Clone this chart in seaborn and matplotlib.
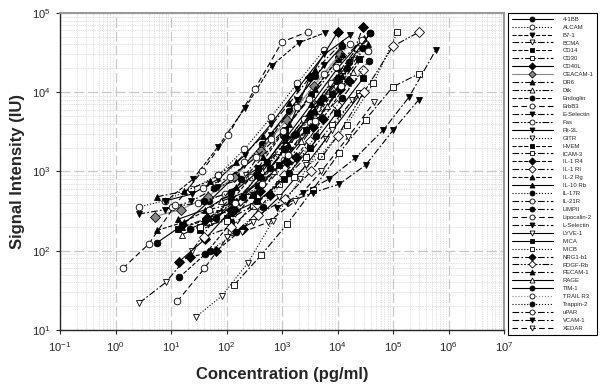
import matplotlib
matplotlib.use("Agg")
import matplotlib.pyplot as plt
import seaborn as sns
from matplotlib.ticker import LogLocator, NullFormatter

# series names (legend order)
names = ["4-1BB", "ALCAM", "B7-1", "BCMA", "CD14", "CD30", "CD40L", "CEACAM-1",
         "DR6", "Dtk", "Endoglin", "ErbB3", "E-Selectin", "Fas", "Flt-3L", "GITR",
         "HVEM", "ICAM-3", "IL-1 R4", "IL-1 RI", "IL-2 Rg", "IL-10 Rb", "IL-17R",
         "IL-21R", "LIMPII", "Lipocalin-2", "L-Selectin", "LYVE-1", "MICA", "MICB",
         "NRG1-b1", "PDGF-Rb", "PECAM-1", "RAGE", "TIM-1", "TRAIL R3", "Trappin-2",
         "uPAR", "VCAM-1", "XEDAR"]

# axis decades
x_ticks = [1e-1, 1e0, 1e1, 1e2, 1e3, 1e4, 1e5, 1e6, 1e7]
y_ticks = [1e1, 1e2, 1e3, 1e4, 1e5]

# concentration (pg/ml) and signal (IU)
conc = {
    "4-1BB": [5.5, 16, 49, 148, 444, 1333, 4000, 12000],
    "ALCAM": [2.6, 7.8, 23, 70, 210, 630, 1900, 5700],
    "B7-1": [8, 25, 70, 215, 650, 2000, 5900],
    "BCMA": [2.7, 8.1, 24, 73, 220, 660, 2000],
    "CD14": [13.5, 41, 123, 370, 1111, 3333, 10000],
    "CD30": [137, 420, 1230, 3600, 10700, 32000, 100000, 290000],
    "CD40L": [14, 41, 123, 370, 1111, 3200, 10000],
    "CEACAM-1": [5.1, 15, 46, 137, 411, 1233, 3700, 11000],
    "DR6": [5.6, 17, 50, 150, 450, 1350, 4000, 12000],
    "Dtk": [16, 49, 148, 444, 1333, 4000, 12000],
    "Endoglin": [14, 41, 123, 370, 1111, 3333, 10000],
    "ErbB3": [13, 40, 120, 360, 1080, 3240, 9720],
    "E-Selectin": [2.6, 7.8, 23, 70, 210, 630, 1900, 5700],
    "Fas": [10.4, 31, 94, 280, 840, 2500, 7500, 22500],
    "Flt-3L": [7.9, 24, 71, 213, 640, 1900, 5800, 17000],
    "GITR": [28, 83, 245, 690, 2100, 6200, 18500],
    "HVEM": [33, 100, 300, 900, 2700, 8100, 24300],
    "ICAM-3": [33, 100, 300, 900, 2700, 8100, 24300],
    "IL-1 R4": [22, 66, 200, 600, 1800, 5400, 16000],
    "IL-1 RI": [40, 120, 360, 1080, 3240, 9720, 29000],
    "IL-2 Rg": [5.6, 17, 50, 150, 450, 1350, 4000, 12000],
    "IL-10 Rb": [13.5, 41, 123, 370, 1111, 3333, 10000, 30000],
    "IL-17R": [40, 120, 360, 1080, 3240, 9720, 29000],
    "IL-21R": [38, 114, 342, 1030, 3090, 9270, 27800],
    "LIMPII": [60, 180, 540, 1620, 4860, 14600, 39000],
    "Lipocalin-2": [1.36, 4, 12, 36, 108, 324, 1000, 2950],
    "L-Selectin": [1230, 3600, 10700, 32000, 100000, 290000],
    "LYVE-1": [100, 300, 900, 2700, 8100, 24300],
    "MICA": [120, 360, 1080, 3240, 9720, 29000],
    "MICB": [1650, 4950, 14800, 44500, 120000],
    "NRG1-b1": [45, 135, 405, 1215, 3645, 10900, 29000],
    "PDGF-Rb": [370, 1111, 3333, 10000, 30000, 100000, 290000],
    "PECAM-1": [16, 49, 148, 444, 1333, 4000, 12000, 36000],
    "RAGE": [80, 240, 720, 2160, 6480, 19400],
    "TIM-1": [22, 66, 200, 600, 1800, 5400, 16200, 39000],
    "TRAIL R3": [70, 210, 630, 1900, 5700, 17000],
    "Trappin-2": [50, 150, 450, 1350, 4050, 12150, 36500],
    "uPAR": [48, 145, 435, 1300, 3900, 11700, 35000],
    "VCAM-1": [810, 2400, 7000, 21000, 66000, 195000, 590000],
    "XEDAR": [190, 570, 1700, 5100, 15400, 46000],
}
signal = {
    "4-1BB": [125, 210, 420, 900, 2200, 5800, 16000, 38000],
    "ALCAM": [355, 430, 600, 890, 1900, 4800, 13000, 34000],
    "B7-1": [420, 800, 2040, 6300, 21500, 42000, 56000],
    "BCMA": [22, 40, 100, 300, 900, 2800, 8000],
    "CD14": [190, 240, 420, 1100, 3300, 9500, 26000],
    "CD30": [37, 88, 215, 590, 1700, 4500, 11700, 17000],
    "CD40L": [73, 140, 330, 900, 2700, 15500, 57000],
    "CEACAM-1": [270, 330, 480, 850, 1800, 4500, 12000, 30000],
    "DR6": [480, 560, 760, 1300, 2800, 7200, 19000, 42000],
    "Dtk": [160, 230, 430, 1000, 2600, 7200, 19000],
    "Endoglin": [46, 90, 230, 650, 1900, 5500, 15000],
    "ErbB3": [23, 60, 170, 480, 1400, 4200, 12000],
    "E-Selectin": [290, 330, 420, 640, 1200, 2900, 8000, 22000],
    "Fas": [355, 400, 520, 850, 1800, 4600, 13000, 36000],
    "Flt-3L": [425, 520, 800, 1600, 4000, 11000, 30000, 52000],
    "GITR": [14.6, 27, 71, 240, 800, 2600, 8000],
    "HVEM": [180, 260, 500, 1200, 3300, 9500, 26000],
    "ICAM-3": [200, 240, 370, 700, 1500, 3900, 9800],
    "IL-1 R4": [83, 100, 190, 500, 1500, 4600, 14000],
    "IL-1 RI": [150, 200, 390, 900, 2400, 6800, 19000],
    "IL-2 Rg": [180, 230, 340, 640, 1500, 4000, 11000, 30000],
    "IL-10 Rb": [250, 330, 520, 1000, 2500, 7000, 20000, 48000],
    "IL-17R": [420, 550, 900, 1900, 5000, 14000, 36000],
    "IL-21R": [620, 850, 1500, 3200, 8200, 21000, 46000],
    "LIMPII": [620, 800, 1300, 2900, 7500, 20000, 56000],
    "Lipocalin-2": [60, 122, 380, 1000, 2900, 11000, 43000, 58000],
    "L-Selectin": [400, 540, 690, 1200, 3300, 8000],
    "LYVE-1": [150, 230, 480, 1200, 3300, 9000],
    "MICA": [300, 420, 800, 2000, 5500, 15000],
    "MICB": [860, 1580, 3900, 13000, 57000],
    "NRG1-b1": [260, 330, 560, 1300, 3600, 11000, 67000],
    "PDGF-Rb": [280, 450, 1000, 2800, 10000, 38000, 57000],
    "PECAM-1": [200, 260, 420, 850, 2100, 5800, 16000, 40000],
    "RAGE": [420, 560, 1000, 2400, 6600, 18000],
    "TIM-1": [190, 260, 480, 1100, 3000, 8500, 24000, 56000],
    "TRAIL R3": [890, 1300, 2600, 6500, 17000, 40000],
    "Trappin-2": [100, 170, 360, 950, 2800, 8500, 25000],
    "uPAR": [330, 400, 700, 1600, 4300, 12000, 33000],
    "VCAM-1": [350, 540, 800, 1480, 3300, 8700, 34000],
    "XEDAR": [170, 230, 420, 1000, 2700, 7500],
}

# symbol style per series as in the legend
marks = ["o", "o", "v", "v", "s", "s", "D", "D", "^", "^",
         "o", "o", "v", "o", "v", "v", "s", "s", "D", "D",
         "^", "^", "o", "o", "o", "o", "v", "v", "s", "s",
         "D", "D", "^", "^", "o", "o", "o", "o", "v", "v"]
filled = [1, 0, 1, 0, 1, 0, 1, 1, 1, 0,
          1, 0, 1, 0, 1, 0, 1, 0, 1, 0,
          1, 1, 1, 0, 1, 0, 1, 0, 1, 0,
          1, 0, 1, 0, 1, 0, 1, 0, 1, 0]
dashdot = (0, (6, 2, 1.5, 2))
dashdotdot = (0, (6, 1.5, 1.5, 1.5, 1.5, 1.5))
styles = ["-", ":", "--", dashdot, "--", dashdot, "-", "-", dashdot, dashdotdot,
          "--", (0, (5, 3)), dashdot, dashdotdot, "-", ":", "--", dashdot, "--", dashdot,
          "--", "-", ":", dashdot, dashdot, (0, (5, 3)), dashdot, "-", "-", ":",
          dashdot, dashdotdot, dashdot, "-", "-", ":", ":", dashdot, dashdot, (0, (5, 3))]

sns.set_style("ticks")
plt.rcParams["font.family"] = ["Liberation Sans", "DejaVu Sans"]

fig = plt.figure(figsize=(6, 3.91), dpi=100)
ax = fig.add_axes([0.1, 0.156, 0.74, 0.811])

for i, n in enumerate(names):
    col = "#888888" if n in ("CEACAM-1", "TRAIL R3") else "black"
    sns.lineplot(x=conc[n], y=signal[n], ax=ax, label=n, color=col,
                 linestyle=styles[i], linewidth=0.8, marker=marks[i],
                 markersize=4.8, markerfacecolor=col if filled[i] else "white",
                 markeredgecolor="black", markeredgewidth=0.6)

ax.set_xscale("log")
ax.set_yscale("log")
ax.set_xticks(x_ticks)
ax.set_yticks(y_ticks)
ax.set_xlim(0.1, 1e7)
ax.set_ylim(10, 1e5)

ax.xaxis.set_minor_locator(LogLocator(base=10, subs=range(2, 10), numticks=100))
ax.xaxis.set_minor_formatter(NullFormatter())
ax.yaxis.set_minor_locator(LogLocator(base=10, subs=range(2, 10), numticks=100))
ax.yaxis.set_minor_formatter(NullFormatter())
ax.grid(which="major", color="#c8c8c8", linestyle=(0, (8, 3)), linewidth=0.9)
ax.grid(which="minor", color="#c4c4c4", linestyle=(0, (1, 1.5)), linewidth=0.5)
ax.set_axisbelow(True)
ax.tick_params(which="major", direction="out", length=3, width=0.8, labelsize=8, pad=4)
ax.tick_params(which="minor", length=0)

for s in ("top", "right"):
    ax.spines[s].set_visible(True)
    ax.spines[s].set_color("#999999")
    ax.spines[s].set_linewidth(1.5)
ax.spines["left"].set_linewidth(1)
ax.spines["bottom"].set_linewidth(1)

ax.set_xlabel("Concentration (pg/ml)", fontsize=12, fontweight="bold", labelpad=10)
ax.set_ylabel("Signal Intensity (IU)", fontsize=12, fontweight="bold", labelpad=5)

h, l = ax.get_legend_handles_labels()
ax.get_legend().remove()
leg = fig.legend(h, l, loc="upper left", bbox_to_anchor=(508 / 600, 1 - 13 / 391),
                 fontsize=4.3, frameon=True, fancybox=False, edgecolor="black",
                 framealpha=1, labelspacing=0.46, handlelength=7.0, handletextpad=1.6,
                 borderpad=0.6, borderaxespad=0, markerscale=0.75)
leg.get_frame().set_linewidth(0.8)

fig.savefig("out.png", dpi=100)
